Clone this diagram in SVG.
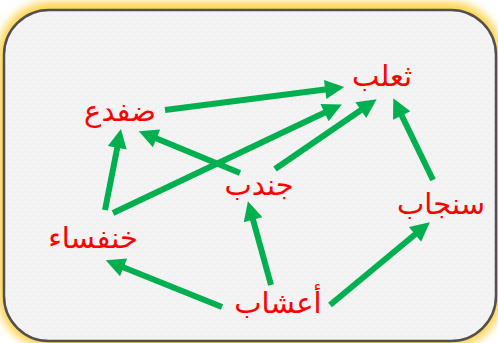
<svg xmlns="http://www.w3.org/2000/svg" width="498" height="343" viewBox="0 0 498 343">
<style>
.lbl{font-family:"DejaVu Sans","Noto Sans",sans-serif;font-size:29px;fill:#FF0000;text-anchor:middle}
.edge{stroke:#00B050;stroke-width:6;fill:none;marker-end:url(#ah)}
</style>
<defs>
<pattern id="dots" width="8" height="8" patternUnits="userSpaceOnUse">
<rect width="8" height="8" fill="#F2F2F2"/>
<rect x="1.4" y="1.4" width="1.3" height="1.3" fill="#FFFFFF"/>
<rect x="5.4" y="5.4" width="1.3" height="1.3" fill="#FFFFFF"/>
</pattern>
<filter id="glow" x="-10%" y="-10%" width="120%" height="120%">
<feGaussianBlur stdDeviation="4"/>
</filter>
<marker id="ah" viewBox="0 0 10 10" refX="2" refY="5" markerWidth="3.6" markerHeight="3.2" orient="auto" markerUnits="strokeWidth">
<path d="M0,0 L10,5 L0,10 Z" fill="#00B050"/>
</marker>
</defs>
<g id="frame">
<rect x="-2" y="2" width="504" height="346" rx="52" fill="#FFD34D" filter="url(#glow)"/>
<rect x="4" y="10" width="492" height="331" rx="45" fill="url(#dots)" stroke="#505050" stroke-width="2.5"/>
</g>
<g id="connectors">
<line class="edge" x1="165" y1="110" x2="329" y2="89"/>
<line class="edge" x1="113" y1="213" x2="328" y2="111"/>
<line class="edge" x1="275" y1="169" x2="364" y2="108"/>
<line class="edge" x1="433" y1="180" x2="400" y2="112"/>
<line class="edge" x1="240" y1="173" x2="153" y2="137"/>
<line class="edge" x1="105" y1="210" x2="118" y2="144"/>
<line class="edge" x1="222" y1="307" x2="120" y2="266"/>
<line class="edge" x1="271" y1="285" x2="252" y2="216"/>
<line class="edge" x1="330" y1="305" x2="418" y2="232"/>
</g>
<g id="node-fox"><text class="lbl" x="382" y="86">ثعلب</text></g>
<g id="node-frog"><text class="lbl" x="120" y="121">ضفدع</text></g>
<g id="node-grasshopper"><text class="lbl" x="259" y="195">جندب</text></g>
<g id="node-beetle"><text class="lbl" x="93" y="248">خنفساء</text></g>
<g id="node-squirrel"><text class="lbl" x="441" y="214">سنجاب</text></g>
<g id="node-grass"><text class="lbl" x="278" y="313">أعشاب</text></g>
</svg>
